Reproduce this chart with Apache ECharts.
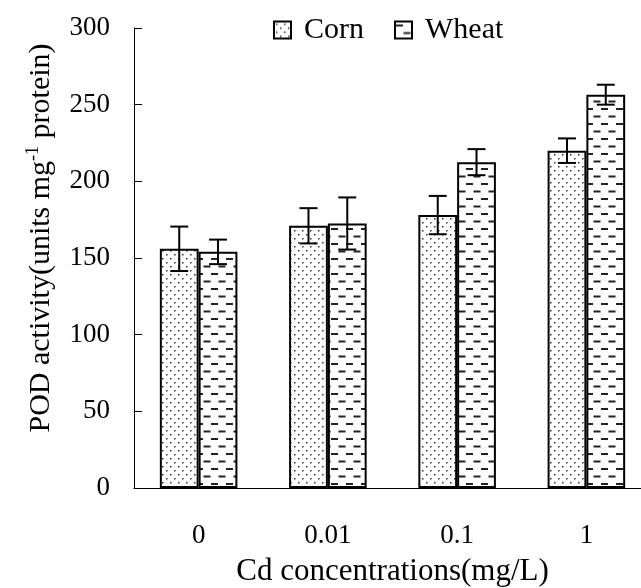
<!DOCTYPE html>
<html>
<head>
<meta charset="utf-8">
<script src="https://cdn.jsdelivr.net/npm/echarts@6/dist/echarts.min.js"></script>
<style>
  html, body { margin: 0; padding: 0; background: #fff; }
  #chart { width: 641px; height: 588px; }
</style>
</head>
<body>
<div id="chart"></div>
<script>
const categories = ['0', '0.01', '0.1', '1']
const seriesNames = ['Corn', 'Wheat']
const cornValues = [156, 171, 178, 220]
const cornErrors = [14.5, 11.5, 12.5, 8]
const wheatValues = [154, 172.5, 212.5, 256.5]
const wheatErrors = [8, 17, 8.5, 6.5]
const yTicks = [0, 50, 100, 150, 200, 250, 300]

const FONT = '"Liberation Serif", "Times New Roman", serif'

// fill patterns: dots for corn, dashes for wheat
const makeDots = () => {
  const c = document.createElement('canvas')
  c.width = 8
  c.height = 8
  const ctx = c.getContext('2d')
  ctx.fillStyle = '#fff'
  ctx.fillRect(0, 0, 8, 8)
  ctx.fillStyle = '#333'
  ctx.fillRect(2, 2, 1.5, 1.5)
  ctx.fillRect(6, 6, 1.5, 1.5)
  return c
}

const makeDashes = () => {
  const c = document.createElement('canvas')
  c.width = 15
  c.height = 15
  const ctx = c.getContext('2d')
  ctx.fillStyle = '#fff'
  ctx.fillRect(0, 0, 15, 15)
  ctx.fillStyle = '#222'
  ctx.fillRect(1, 3, 7, 2)
  ctx.fillRect(8.5, 10.5, 7, 2)
  ctx.fillRect(-6.5, 10.5, 7, 2)
  return c
}

const cornFill = { image: makeDots(), repeat: 'repeat' }
const wheatFill = { image: makeDashes(), repeat: 'repeat' }

const chart = echarts.init(document.getElementById('chart'))

// error bars drawn as a custom series, shifted to each bar's centre
const errorSeries = (values, errors, side) => ({
  type: 'custom',
  silent: true,
  z: 5,
  data: values.map((v, i) => [i, v - errors[i], v + errors[i]]),
  renderItem: (params, api) => {
    const band = api.size([1, 0])[0]
    const off = side * band * 0.15
    const lo = api.coord([api.value(0), api.value(1)])
    const hi = api.coord([api.value(0), api.value(2)])
    const x = lo[0] + off
    const cap = 9
    const style = { stroke: '#000', lineWidth: 2 }
    return {
      type: 'group',
      children: [
        { type: 'line', shape: { x1: x, y1: lo[1], x2: x, y2: hi[1] }, style },
        { type: 'line', shape: { x1: x - cap, y1: hi[1], x2: x + cap, y2: hi[1] }, style },
        { type: 'line', shape: { x1: x - cap, y1: lo[1], x2: x + cap, y2: lo[1] }, style },
      ],
    }
  },
})

const option = {
  animation: false,
  backgroundColor: '#fff',
  textStyle: { fontFamily: FONT },
  grid: { left: 134, right: -10, top: 28, bottom: 100, containLabel: false, outerBoundsMode: 'none' },
  legend: {
    top: 10,
    left: 268,
    itemGap: 30,
    itemWidth: 17,
    itemHeight: 17,
    icon: 'rect',
    data: seriesNames,
    textStyle: { fontFamily: FONT, fontSize: 30, color: '#000', padding: [0, 0, 0, 8] },
  },
  xAxis: {
    type: 'category',
    data: categories,
    name: 'Cd concentrations(mg/L)',
    nameLocation: 'middle',
    nameGap: 68,
    nameTextStyle: { fontFamily: FONT, fontSize: 31, color: '#000' },
    axisLine: { lineStyle: { color: '#000', width: 1 } },
    axisTick: { inside: true, length: 8, lineStyle: { color: '#000' } },
    axisLabel: { fontFamily: FONT, fontSize: 27, color: '#000', margin: 34 },
  },
  yAxis: {
    type: 'value',
    min: 0,
    max: 300,
    interval: 50,
    name: 'POD activity(units mg{sup|-1} protein)',
    nameLocation: 'middle',
    nameGap: 76,
    nameRotate: 90,
    nameTextStyle: {
      fontFamily: FONT,
      fontSize: 30,
      color: '#000',
      padding: [0, 0, 0, 40],
      rich: { sup: { fontFamily: FONT, fontSize: 18, color: '#000', padding: [0, 0, 16, 0] } },
    },
    axisLine: { show: true, lineStyle: { color: '#000', width: 1 } },
    axisTick: { show: true, inside: true, length: 8, lineStyle: { color: '#000' } },
    axisLabel: {
      fontFamily: FONT,
      fontSize: 27,
      color: '#000',
      margin: 24,
      formatter: (v) => (yTicks.includes(v) ? String(v) : ''),
    },
    splitLine: { show: false },
  },
  series: [
    {
      name: 'Corn',
      type: 'bar',
      data: cornValues,
      barWidth: '30%',
      barGap: '0%',
      itemStyle: { color: cornFill, borderColor: '#000', borderWidth: 2 },
    },
    {
      name: 'Wheat',
      type: 'bar',
      data: wheatValues,
      barWidth: '30%',
      barGap: '0%',
      itemStyle: { color: wheatFill, borderColor: '#000', borderWidth: 2 },
    },
    errorSeries(cornValues, cornErrors, -1),
    errorSeries(wheatValues, wheatErrors, 1),
  ],
}

chart.setOption(option)
</script>
</body>
</html>
